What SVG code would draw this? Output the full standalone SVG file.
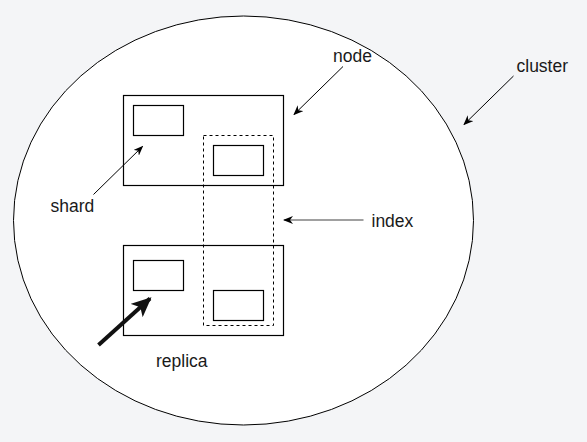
<svg xmlns="http://www.w3.org/2000/svg" width="587" height="442" viewBox="0 0 587 442">
<style>
.box{fill:none;stroke:#000;stroke-width:1.2}
.lbl{font-family:"Liberation Sans",Arial,sans-serif;font-size:17.5px;fill:#1a1a1a}
.conn{fill:none;stroke:#000;stroke-width:1}
</style>
<defs>
<marker id="ah" viewBox="0 0 10 8" refX="9" refY="4" markerWidth="10" markerHeight="8" markerUnits="userSpaceOnUse" orient="auto">
<path d="M0,0 L10,4 L0,8 L3,4 Z" fill="#000"/>
</marker>
<marker id="ahg" viewBox="0 0 10 8" refX="9" refY="4" markerWidth="10" markerHeight="8" markerUnits="userSpaceOnUse" orient="auto">
<path d="M0,0 L10,4 L0,8 L3,4 Z" fill="#000"/>
</marker>
<marker id="ahb" viewBox="0 0 10 9" refX="9" refY="4.5" markerWidth="20" markerHeight="18" markerUnits="userSpaceOnUse" orient="auto">
<path d="M0,0 L10,4.5 L0,9 L2.5,4.5 Z" fill="#111"/>
</marker>
</defs>
<rect x="0" y="0" width="587" height="442" fill="#f4f5f7"/>
<g id="cluster">
<ellipse cx="243.5" cy="220.5" rx="230" ry="204.5" fill="#fff" stroke="#000" stroke-width="1"/>
</g>
<g id="node1">
<rect class="box" x="123.5" y="95.5" width="160" height="90"/>
<rect class="box" x="133.5" y="105.5" width="50" height="30"/>
<rect class="box" x="213.5" y="145.5" width="50" height="30"/>
</g>
<g id="node2">
<rect class="box" x="123.5" y="245.5" width="160" height="90"/>
<rect class="box" x="133.5" y="260.5" width="50" height="30"/>
<rect class="box" x="213.5" y="290.5" width="50" height="30"/>
</g>
<g id="index">
<rect x="203.5" y="135.5" width="70" height="190" fill="none" stroke="#000" stroke-width="1" stroke-dasharray="3 3"/>
</g>
<g id="connectors">
<line class="conn" x1="343" y1="66.5" x2="294" y2="114.5" marker-end="url(#ah)"/>
<line class="conn" x1="513.5" y1="76" x2="464" y2="124.5" marker-end="url(#ah)"/>
<line x1="363.5" y1="220" x2="284" y2="220" stroke="#808080" stroke-width="1.5" marker-end="url(#ahg)"/>
<line class="conn" x1="93.5" y1="194.5" x2="142.5" y2="146.5" marker-end="url(#ah)"/>
<line x1="98.5" y1="345" x2="150" y2="298.5" stroke="#111" stroke-width="4" marker-end="url(#ahb)"/>
</g>
<g id="labels">
<text class="lbl" x="333" y="62">node</text>
<text class="lbl" x="516.5" y="72">cluster</text>
<text class="lbl" x="371.5" y="227">index</text>
<text class="lbl" x="50.5" y="212">shard</text>
<text class="lbl" x="156" y="367">replica</text>
</g>
</svg>
